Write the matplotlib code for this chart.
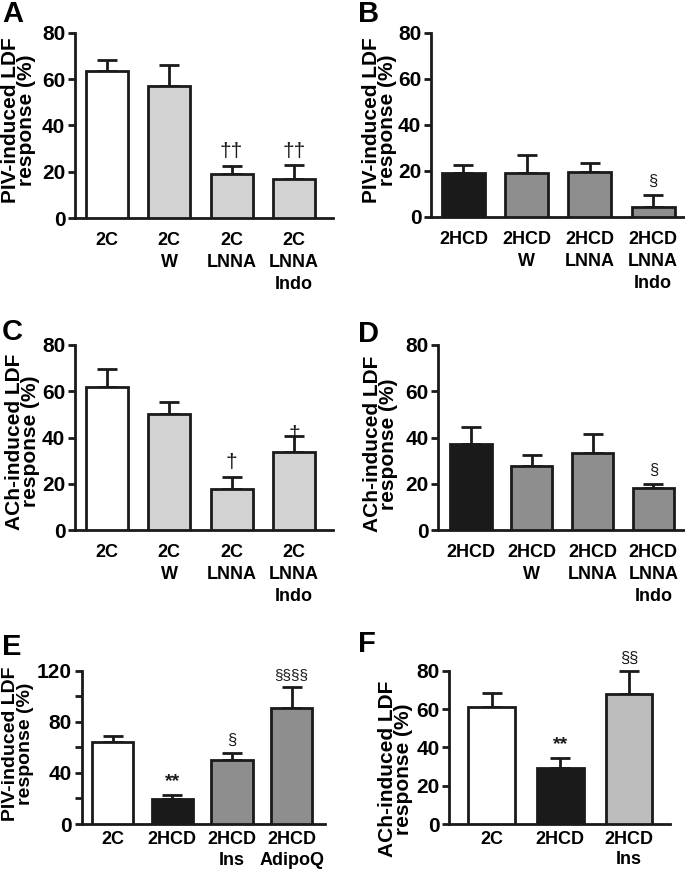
import matplotlib
matplotlib.use("Agg")
import matplotlib.pyplot as plt
from matplotlib.ticker import MultipleLocator

plt.rcParams['font.family'] = ['Liberation Sans', 'DejaVu Sans']
plt.rcParams['font.weight'] = 'bold'

WHITE = '#ffffff'
LIGHT = '#d2d2d2'
MID = '#8e8e8e'
DARK = '#1a1a1a'
PALE = '#bdbdbd'
EDGE = '#1a1a1a'

# panel data
a_labels = ['2C', '2C\nW', '2C\nLNNA', '2C\nLNNA\nIndo']
a_vals = [63.7, 57.1, 19.0, 16.9]
a_err = [4.5, 8.9, 3.5, 5.9]
a_marks = ['', '', '††', '††']

b_labels = ['2HCD', '2HCD\nW', '2HCD\nLNNA', '2HCD\nLNNA\nIndo']
b_vals = [19.2, 19.2, 19.6, 4.1]
b_err = [3.3, 7.5, 3.9, 5.3]
b_marks = ['', '', '', '§']

c_labels = ['2C', '2C\nW', '2C\nLNNA', '2C\nLNNA\nIndo']
c_vals = [61.7, 50.0, 17.9, 33.6]
c_err = [7.8, 5.2, 5.0, 7.2]
c_marks = ['', '', '†', '†']

d_labels = ['2HCD', '2HCD\nW', '2HCD\nLNNA', '2HCD\nLNNA\nIndo']
d_vals = [37.0, 27.8, 33.4, 18.0]
d_err = [7.5, 4.8, 8.1, 1.9]
d_marks = ['', '', '', '§']

e_labels = ['2C', '2HCD', '2HCD\nIns', '2HCD\nAdipoQ']
e_vals = [64.4, 19.6, 49.8, 90.8]
e_err = [4.5, 3.1, 5.5, 16.4]
e_marks = ['', '**', '§', '§§§§']

f_labels = ['2C', '2HCD', '2HCD\nIns']
f_vals = [61.0, 29.0, 68.0]
f_err = [7.5, 5.5, 12.0]
f_marks = ['', '**', '§§']

W, H = 685, 871
fig = plt.figure(figsize=(W / 100, H / 100), dpi=100)


def make_axes(x0, x1, top, bottom):
    return fig.add_axes([x0 / W, (H - bottom) / H, (x1 - x0) / W, (bottom - top) / H])


def panel(ax, letter, labels, vals, err, marks, colors, ylabel, ymax, step,
          xlim, width, gaps, label_off, label_y, label_size, letter_xy,
          minor=None, xpad=10, xspacing=1.4):
    x = list(range(len(vals)))
    ax.bar(x, vals, width=width, color=colors, edgecolor=EDGE, linewidth=2, zorder=3)
    ax.errorbar(x, vals, yerr=[[0] * len(vals), err], fmt='none', ecolor=EDGE,
                elinewidth=2, capsize=7.5, capthick=2, zorder=2, clip_on=False)
    for xi, v, e, m, g in zip(x, vals, err, marks, gaps):
        if not m:
            continue
        if '*' in m:
            ax.text(xi, v + e + g, m, ha='center', va='bottom', fontsize=14,
                    fontweight='bold', color=EDGE, clip_on=False)
        else:
            ax.text(xi, v + e + g, m, ha='center', va='bottom',
                    fontsize=15 if '†' in m else (11 if len(m) > 2 else 12),
                    fontweight='normal', color=EDGE, clip_on=False, zorder=4)
    ax.set_xlim(*xlim)
    ax.set_ylim(0, ymax)
    ax.yaxis.set_major_locator(MultipleLocator(step))
    if minor:
        ax.yaxis.set_minor_locator(MultipleLocator(minor))
        ax.tick_params(axis='y', which='minor', length=5, width=2, color=EDGE)
    ax.set_xticks(x)
    ax.set_xticklabels(labels, fontsize=13, fontweight='bold', linespacing=xspacing, va='top')
    ax.tick_params(axis='x', length=0, pad=xpad)
    ax.tick_params(axis='y', which='major', length=5, width=2, color=EDGE,
                   labelsize=15, pad=2)
    for t in ax.get_yticklabels():
        t.set_fontweight('bold')
    for s in ['top', 'right']:
        ax.spines[s].set_visible(False)
    for s in ['left', 'bottom']:
        ax.spines[s].set_linewidth(2)
        ax.spines[s].set_color(EDGE)
    ax.set_ylabel(ylabel, fontsize=label_size, fontweight='bold', linespacing=0.8)
    bbox = ax.get_position()
    ax.yaxis.set_label_coords(-label_off / (bbox.width * W), label_y)
    fig.text(letter_xy[0] / W, 1 - letter_xy[1] / H, letter, fontsize=21,
             fontweight='bold', ha='left', va='top')


piv = 'PIV-induced LDF\nresponse (%)'
ach = 'ACh-induced LDF\nresponse (%)'

ax_a = make_axes(75, 333, 33, 218)
panel(ax_a, 'A', a_labels, a_vals, a_err, a_marks, [WHITE, LIGHT, LIGHT, LIGHT],
      piv, 80, 20, (-0.514, 3.626), 0.67, [2.0] * 4, 39, 0.53, 15, (2, 0))

ax_b = make_axes(431, 685, 33, 216.7)
panel(ax_b, 'B', b_labels, b_vals, b_err, b_marks, [DARK, MID, MID, MID],
      piv, 80, 20, (-0.514, 3.506), 0.68, [2.5] * 4, 34, 0.524, 15, (358, 0))

ax_c = make_axes(75, 333, 345, 530)
panel(ax_c, 'C', c_labels, c_vals, c_err, c_marks, [WHITE, LIGHT, LIGHT, LIGHT],
      ach, 80, 20, (-0.514, 3.626), 0.67, [2.0, 2.0, 2.0, -3.5], 35, 0.478, 15, (2, 318))

ax_d = make_axes(438.3, 685, 345, 530)
panel(ax_d, 'D', d_labels, d_vals, d_err, d_marks, [DARK, MID, MID, MID],
      ach, 80, 20, (-0.535, 3.52), 0.68, [2.5] * 4, 40, 0.465, 15, (358, 320))

ax_e = make_axes(81.7, 325, 670.7, 824)
panel(ax_e, 'E', e_labels, e_vals, e_err, e_marks, [WHITE, DARK, MID, MID],
      piv, 120, 40, (-0.52, 3.56), 0.69, [4] * 4, 48, 0.522, 14, (2, 633),
      minor=20, xpad=5, xspacing=1.3)

ax_f = make_axes(449.3, 670, 670.7, 824)
panel(ax_f, 'F', f_labels, f_vals, f_err, f_marks, [WHITE, DARK, PALE],
      ach, 80, 20, (-0.62, 2.6), 0.68, [2.5] * 3, 36, 0.36, 15, (358, 630),
      xpad=5, xspacing=1.2)

fig.savefig('out.png', dpi=100)
